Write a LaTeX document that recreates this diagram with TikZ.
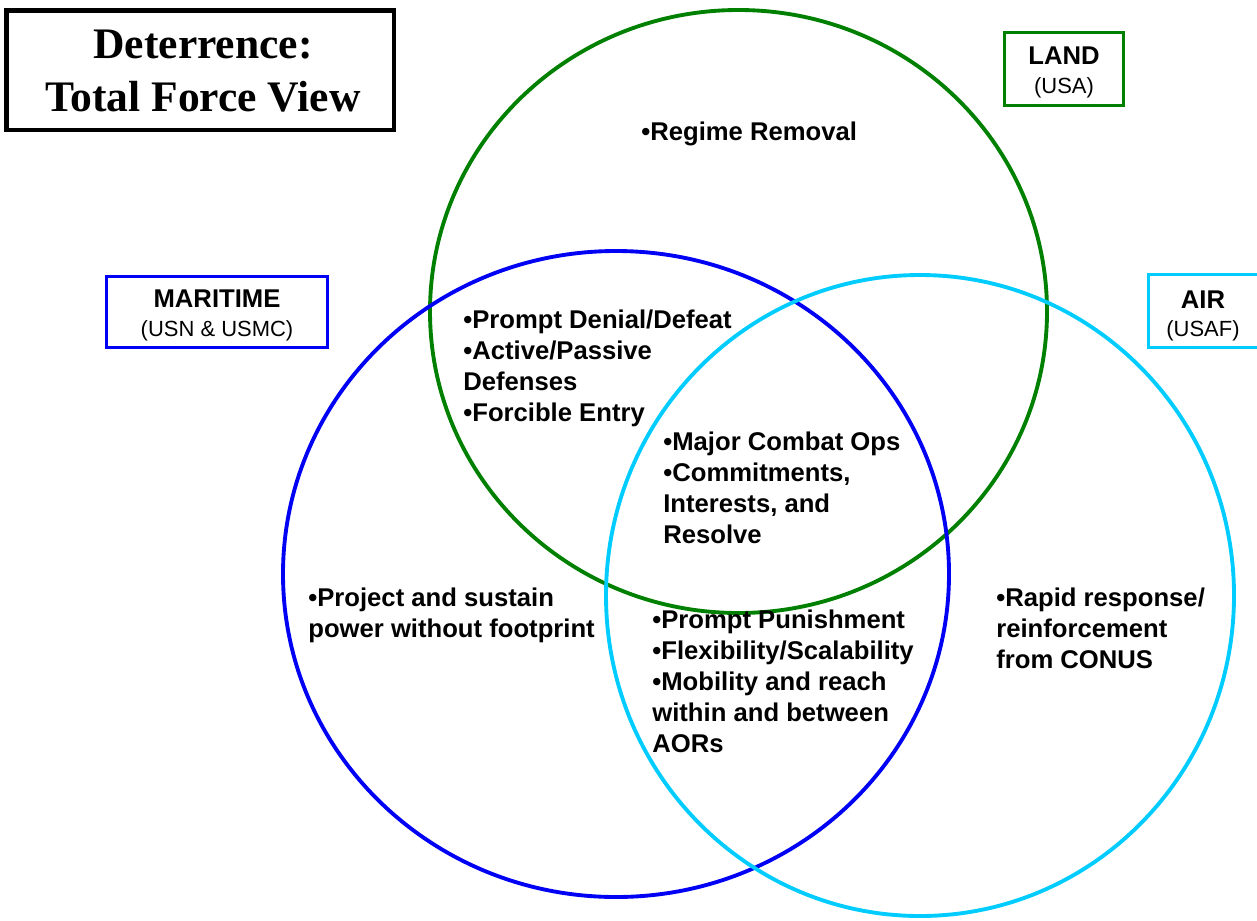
\documentclass[tikz,border=0pt]{standalone}
\usepackage{fontspec}
\setmainfont{Liberation Sans}
\newfontfamily\titlefont{Liberation Serif}
\usepackage{xcolor}
\usepackage{tikz}
\definecolor{landgreen}{RGB}{0,128,0}
\definecolor{seablue}{RGB}{0,0,245}
\definecolor{aircyan}{RGB}{0,204,255}

\begin{document}
\begin{tikzpicture}[x=0.02cm,y=-0.02cm,inner sep=0pt,
  font={\fontsize{14.6}{17.6}\selectfont\bfseries}]
  \useasboundingbox (0,0) rectangle (1257,920);
  % --- Circulos ---
  \draw[landgreen,line width=2.2pt] (738.5,311.5) ellipse [x radius=308.5,y radius=301.5];
  \draw[seablue,line width=2.2pt] (616,574) ellipse [x radius=333,y radius=323];
  \draw[aircyan,line width=2.2pt] (920,595.5) ellipse [x radius=314,y radius=320.5];
  % --- Titulo (base = ultima linea) ---
  \draw[line width=2.8pt] (6.5,10.5) rectangle (394,130);
  \node[anchor=base,align=center,font={\titlefont\fontsize{24.8}{30}\selectfont\bfseries}] (title) at (203,111) {Deterrence:\\Total Force View};
  % --- LAND ---
  \draw[landgreen,line width=1.8pt] (1004.5,32.5) rectangle (1123.5,105.5);
  \node[anchor=base] (land) at (1064,64) {LAND};
  \node[anchor=base,font={\fontsize{12.5}{15}\selectfont}] (landsub) at (1064,93) {(USA)};
  % --- MARITIME ---
  \draw[seablue,line width=1.8pt] (106.5,276.5) rectangle (327.5,347.5);
  \node[anchor=base] (sea) at (217,307) {MARITIME};
  \node[anchor=base,font={\fontsize{12.5}{15}\selectfont}] (seasub) at (217,336) {(USN \& USMC)};
  % --- AIR ---
  \draw[aircyan,line width=1.8pt] (1148.5,274.5) rectangle (1262,347.5);
  \node[anchor=base] (air) at (1203,308) {AIR};
  \node[anchor=base,font={\fontsize{12.5}{15}\selectfont}] (airsub) at (1203,336) {(USAF)};
  % --- Textos (base = ultima linea) ---
  \node[anchor=base west] (regime) at (641,140) {•Regime Removal};
  \node[anchor=base west,align=left] (denial) at (463,421) {•Prompt Denial/Defeat\\•Active/Passive\\Defenses\\•Forcible Entry};
  \node[anchor=base west,align=left] (combat) at (663,543) {•Major Combat Ops\\•Commitments,\\Interests, and\\Resolve};
  \node[anchor=base west,align=left] (project) at (308,637) {•Project and sustain\\power without footprint};
  \node[anchor=base west,align=left] (punish) at (652,752) {•Prompt Punishment\\•Flexibility/Scalability\\•Mobility and reach\\within and between\\AORs};
  \node[anchor=base west,align=left] (rapid) at (996,668) {•Rapid response/\\reinforcement\\from CONUS};
\end{tikzpicture}
\end{document}
